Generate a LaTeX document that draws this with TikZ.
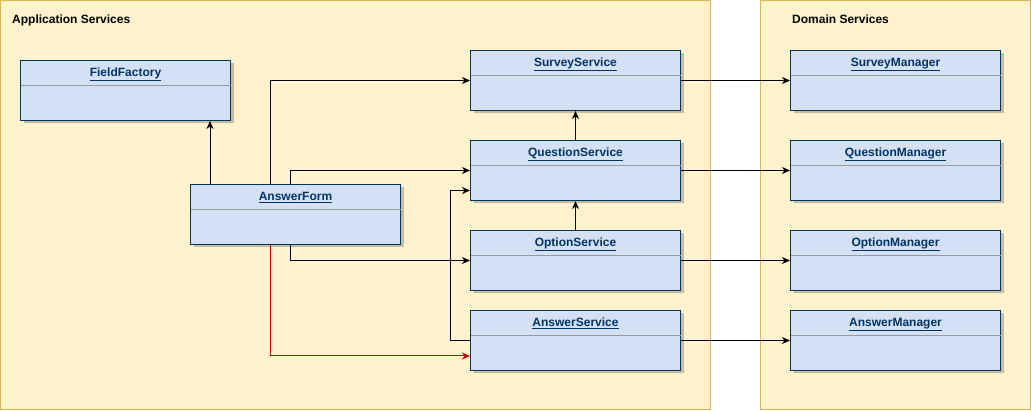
\documentclass[tikz,border=0pt]{standalone}
\usepackage{fontspec}
\setmainfont{Liberation Sans}
\usetikzlibrary{arrows.meta,calc,shadows}
\definecolor{contfill}{HTML}{FFF2CC}
\definecolor{contdraw}{HTML}{D6B656}
\definecolor{boxfill}{HTML}{D4E1F5}
\definecolor{boxdraw}{HTML}{003366}
\definecolor{sepgray}{HTML}{999999}
\definecolor{redline}{HTML}{CC0000}
\tikzset{
 container/.style={draw=contdraw, fill=contfill, line width=1pt},
 conttitle/.style={anchor=base west, font=\bfseries\fontsize{12}{14}\selectfont, inner sep=0pt},
 umlbox/.style={draw=boxdraw, fill=boxfill, line width=1pt, minimum width=210pt, minimum height=60pt, inner sep=0pt, anchor=north west,
   drop shadow={shadow xshift=3pt, shadow yshift=-3pt, opacity=0.22, fill=black}},
 umltitle/.style={font=\bfseries\fontsize{12}{14}\selectfont, text=boxdraw, inner sep=0pt, anchor=base},
 sepline/.style={draw=sepgray, line width=1pt},
 arr/.style={draw=black, line width=1pt, -{Stealth[length=8pt,width=7pt,inset=2.5pt]}},
 redarr/.style={draw=redline, line width=1pt, -{Stealth[length=8pt,width=7pt,inset=2.5pt]}},
}
\newcommand\umlnode[4]{%
  \node[umlbox] (#1) at (#2,#3) {};
  \node[umltitle] (#1-t) at ($(#1.north)+(0,16.5)$) {\underline{#4}};
  \draw[sepline] ($(#1.north west)+(0.5,26)$) -- ($(#1.north east)+(-0.5,26)$);
}
\begin{document}
\begin{tikzpicture}[x=1pt,y=-1pt]
\useasboundingbox (0,0) rectangle (1031,411);
% containers
\draw[container] (0.5,0.5) rectangle (710,410) ;
\node[conttitle] (appt) at (12,24) {Application Services};
\draw[container] (760,0.5) rectangle (1030,410);
\node[conttitle] (domt) at (792,24) {Domain Services};
% nodes
\umlnode{ff}{20}{60}{FieldFactory}
\umlnode{af}{190}{184}{AnswerForm}
\umlnode{ss}{470}{50}{SurveyService}
\umlnode{qs}{470}{140}{QuestionService}
\umlnode{os}{470}{230}{OptionService}
\umlnode{as}{470}{310}{AnswerService}
\umlnode{sm}{790}{50}{SurveyManager}
\umlnode{qm}{790}{140}{QuestionManager}
\umlnode{om}{790}{230}{OptionManager}
\umlnode{am}{790}{310}{AnswerManager}
% connector ports
\coordinate (afn1) at ($(af.north west)+(20,0)$);
\coordinate (afn2) at ($(af.north west)+(80,0)$);
\coordinate (afn3) at ($(af.north west)+(100,0)$);
\coordinate (afs2) at ($(af.south west)+(80,0)$);
\coordinate (afs3) at ($(af.south west)+(100,0)$);
\coordinate (asin) at ($(as.south west)+(0,-15)$);
\coordinate (qsin) at ($(qs.west)+(0,20)$);
% connectors
\draw[arr] (afn1) -- (afn1 |- ff.south);
\draw[arr] (afn2) |- (ss.west);
\draw[arr] (afn3) |- (qs.west);
\draw[arr] (afs3) |- (os.west);
\draw[redarr] (afs2) |- (asin);
\draw[arr] (as.west) -- ++(-20,0) |- (qsin);
\draw[arr] (qs.north) -- (ss.south);
\draw[arr] (os.north) -- (qs.south);
\draw[arr] (ss.east) -- (sm.west);
\draw[arr] (qs.east) -- (qm.west);
\draw[arr] (os.east) -- (om.west);
\draw[arr] (as.east) -- (am.west);
\end{tikzpicture}
\end{document}
